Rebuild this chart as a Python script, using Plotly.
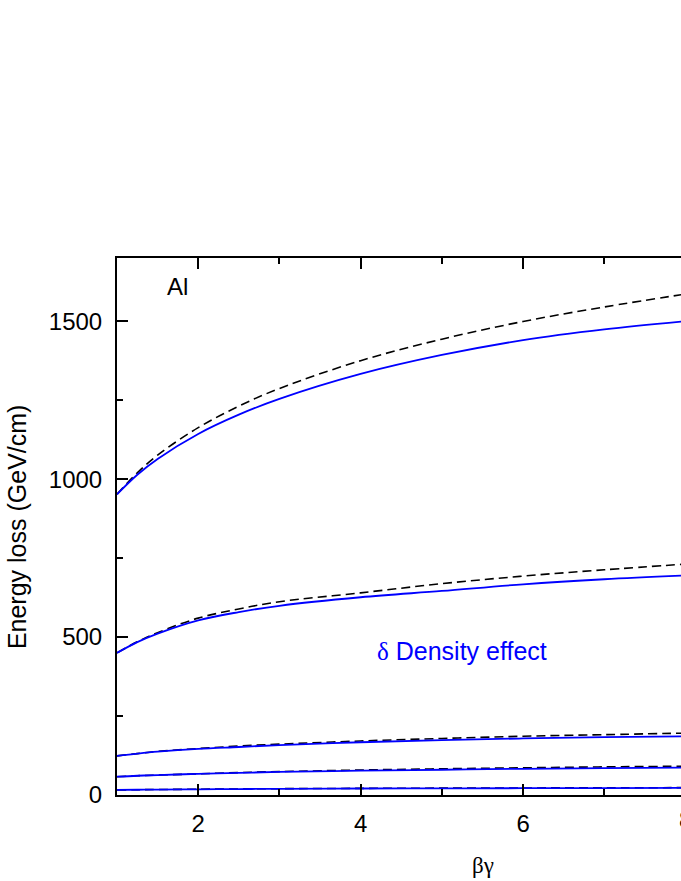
import plotly.graph_objects as go

# beta*gamma sample points
bg = [1, 1.25, 1.5, 2, 2.5, 3, 4, 5, 6, 7, 8]

# energy loss (GeV/cm): with density effect (solid blue) and without (dashed black)
e1_delta = [952, 1014, 1064, 1143, 1204, 1254, 1333, 1393, 1440, 1474, 1500]
e1_nodelta = [952, 1020, 1076, 1163, 1231, 1287, 1375, 1443, 1499, 1545, 1586]
e2_delta = [450, 484, 511, 553, 579, 599, 626, 646, 667, 683, 695]
e2_nodelta = [450, 485, 514, 560, 589, 612, 640, 669, 693, 713, 731]
e3_delta = [124, 131, 137, 146, 152, 158, 167, 174, 179, 183, 186]
e3_nodelta = [124, 131, 138, 147, 155, 161, 171, 179, 186, 191, 196]
e4_delta = [58, 61, 63, 67, 70, 73, 77, 80, 83, 85, 87]
e4_nodelta = [58, 61, 63, 67, 71, 74, 79, 83, 86, 89, 91]
e5_delta = [16, 16.6, 17.1, 18, 18.8, 19.5, 20.5, 21, 21.5, 22, 22.5]
e5_nodelta = [16, 16.7, 17.3, 18.3, 19.2, 20, 21, 21.7, 22.3, 22.8, 23.3]

dashed = [e1_nodelta, e2_nodelta, e3_nodelta, e4_nodelta, e5_nodelta]
solid = [e1_delta, e2_delta, e3_delta, e4_delta, e5_delta]

FONT = "Arial, Liberation Sans, sans-serif"
SERIF = "Times New Roman, Liberation Serif, serif"

fig = go.Figure()
for ys in dashed:
    fig.add_trace(go.Scatter(x=bg, y=ys, mode="lines", line_shape="spline",
                             line=dict(color="black", width=1.6, dash="9px,5px"),
                             showlegend=False))
for ys in solid:
    fig.add_trace(go.Scatter(x=bg, y=ys, mode="lines", line_shape="spline",
                             line=dict(color="#0000ff", width=1.8),
                             showlegend=False))

axis_common = dict(showline=True, linecolor="black", linewidth=2,
                   showgrid=False, zeroline=False,
                   ticks="inside", ticklen=11, tickwidth=1.5, tickcolor="black",
                   tickfont=dict(family=FONT, size=24, color="black"))

fig.update_xaxes(range=[1, 7.945], dtick=2, tick0=0, mirror="ticks",
                 ticklabelstandoff=6,
                 minor=dict(ticks="inside", ticklen=6, tickwidth=1.5,
                            tickcolor="black", dtick=1, tick0=0),
                 **axis_common)
fig.update_yaxes(range=[0, 1700], dtick=500, tick0=0, mirror=False,
                 ticklabelstandoff=8,
                 minor=dict(ticks="inside", ticklen=6, tickwidth=1.5,
                            tickcolor="black", dtick=250, tick0=0),
                 **axis_common)

fig.add_annotation(text="Energy loss (GeV/cm)", xref="paper", yref="paper",
                   x=-0.178, y=0.5, textangle=-90,
                   xanchor="center", yanchor="middle", showarrow=False,
                   font=dict(family=FONT, size=25, color="black"))
fig.add_annotation(text="Al", xref="paper", yref="paper", x=0.085, y=0.946,
                   xanchor="left", yanchor="middle", showarrow=False,
                   font=dict(family=FONT, size=24, color="black"))
fig.add_annotation(text=f"<span style='font-family:{SERIF}'>δ</span> Density effect",
                   xref="paper", yref="paper", x=0.457, y=0.268,
                   xanchor="left", yanchor="middle", showarrow=False,
                   font=dict(family=FONT, size=25, color="#0000ff"))
# cut-off tick label at the right edge and axis title of the cropped original
fig.add_annotation(text="8", xref="paper", yref="paper", x=1.008, y=-0.0447,
                   xanchor="center", yanchor="middle", showarrow=False,
                   font=dict(family=FONT, size=24, color="black"))
fig.add_annotation(text="βγ", xref="paper", yref="paper", x=0.649, y=-0.132,
                   xanchor="center", yanchor="middle", showarrow=False,
                   font=dict(family=SERIF, size=23, color="black"))

fig.update_layout(width=681, height=881,
                  margin=dict(l=117, r=0, t=258, b=86),
                  plot_bgcolor="white", paper_bgcolor="white",
                  showlegend=False)

fig.write_html("out.html", config={"displayModeBar": False},
               post_script="document.body.style.margin='0';")
